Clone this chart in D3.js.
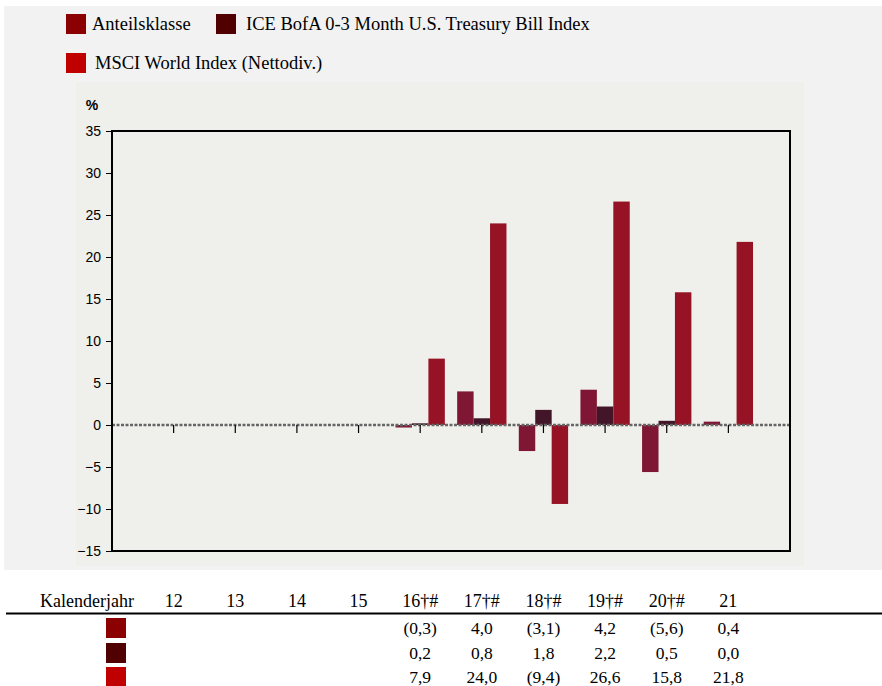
<!DOCTYPE html>
<html>
<head>
<meta charset="utf-8">
<script src="https://cdn.jsdelivr.net/npm/d3@7"></script>
<style>
  body { margin: 0; background: #ffffff; }
  .serif { font-family: "Liberation Serif", "Times New Roman", serif; fill: #000; }
  .axisY text { font-family: "Liberation Sans", Arial, sans-serif; font-size: 14px; fill: #000; }
  .axisY line { stroke: #000; }
</style>
</head>
<body>
<div id="chart"></div>
<script>
// Chart data
var years = ["12", "13", "14", "15", "16†#", "17†#", "18†#", "19†#", "20†#", "21"];
var anteilsklasse = [null, null, null, null, -0.3, 4.0, -3.1, 4.2, -5.6, 0.4];
var iceBofA = [null, null, null, null, 0.2, 0.8, 1.8, 2.2, 0.5, 0.0];
var msciWorld = [null, null, null, null, 7.9, 24.0, -9.4, 26.6, 15.8, 21.8];
var yTicks = [-15, -10, -5, 0, 5, 10, 15, 20, 25, 30, 35];

// Table rows (text as printed)
var anteilsText = ["", "", "", "", "(0,3)", "4,0", "(3,1)", "4,2", "(5,6)", "0,4"];
var iceText = ["", "", "", "", "0,2", "0,8", "1,8", "2,2", "0,5", "0,0"];
var msciText = ["", "", "", "", "7,9", "24,0", "(9,4)", "26,6", "15,8", "21,8"];

var series = [
  { name: "Anteilsklasse", values: anteilsklasse, text: anteilsText, bar: "#7f1734", key: "#8b0000" },
  { name: "ICE BofA 0-3 Month U.S. Treasury Bill Index", values: iceBofA, text: iceText, bar: "#431528", key: "#500000" },
  { name: "MSCI World Index (Nettodiv.)", values: msciWorld, text: msciText, bar: "#961326", key: "#c00000" }
];

var svgWidth = 882;
var svgHeight = 686;

// plot frame
var plot = { left: 112, right: 790, top: 131, bottom: 551 };

var svg = d3.select("#chart")
  .append("svg")
  .attr("width", svgWidth)
  .attr("height", svgHeight);

// Step 1: background panels
svg.append("rect")
  .attr("x", 4).attr("y", 6)
  .attr("width", svgWidth - 4).attr("height", 564)
  .attr("fill", "#f2f2f2");

svg.append("rect")
  .attr("x", 76).attr("y", 82)
  .attr("width", 728).attr("height", 484)
  .attr("fill", "#efefeb");

// Step 2: scales
var xScale = d3.scaleLinear()
  .domain([-1, years.length])
  .range([plot.left, plot.right]);

var step = xScale(1) - xScale(0);
var barWidth = step * 0.8 / 3;

var yScale = d3.scaleLinear()
  .domain([-15, 35])
  .range([plot.bottom, plot.top]);

// Step 3: legend
var legend = [
  { s: series[0], x: 66, y: 14, dx: 26 },
  { s: series[1], x: 216, y: 14, dx: 30 },
  { s: series[2], x: 66, y: 53, dx: 29 }
];
legend.forEach(function(l) {
  svg.append("rect")
    .attr("x", l.x).attr("y", l.y)
    .attr("width", 20).attr("height", 20)
    .attr("fill", l.s.key);
  svg.append("text")
    .attr("class", "serif")
    .attr("x", l.x + l.dx)
    .attr("y", l.y + 16)
    .style("font-size", "18.5px")
    .text(l.s.name);
});

// Step 4: y axis
var leftAxis = d3.axisLeft(yScale)
  .tickValues(yTicks)
  .tickSize(6)
  .tickPadding(5);

svg.append("g")
  .attr("class", "axisY")
  .attr("transform", `translate(${plot.left}, 0)`)
  .call(leftAxis)
  .call(g => g.select(".domain").remove());

svg.append("text")
  .attr("x", 92).attr("y", 110)
  .attr("text-anchor", "middle")
  .style("font-family", "Liberation Sans, Arial, sans-serif")
  .style("font-size", "14px")
  .style("font-weight", "bold")
  .text("%");

// Step 5: bars
series.forEach(function(s, si) {
  svg.append("g")
    .selectAll("rect")
    .data(s.values.map((v, i) => ({ v: v, i: i })).filter(d => d.v !== null))
    .enter()
    .append("rect")
    .attr("x", d => xScale(d.i) - 1.5 * barWidth + si * barWidth)
    .attr("y", d => yScale(Math.max(0, d.v)))
    .attr("width", barWidth)
    .attr("height", d => Math.abs(yScale(d.v) - yScale(0)))
    .attr("fill", s.bar);
});

// Step 6: zero line and category ticks
svg.append("line")
  .attr("x1", plot.left).attr("x2", plot.right)
  .attr("y1", yScale(0)).attr("y2", yScale(0))
  .attr("stroke", "#666")
  .attr("stroke-width", 2.5)
  .attr("stroke-dasharray", "3,1.5");

svg.append("g")
  .selectAll("line")
  .data(years)
  .enter()
  .append("line")
  .attr("x1", (d, i) => xScale(i)).attr("x2", (d, i) => xScale(i))
  .attr("y1", yScale(0)).attr("y2", yScale(0) + 8)
  .attr("stroke", "#000")
  .attr("stroke-width", 1.2);

// Step 7: frame
svg.append("rect")
  .attr("x", plot.left).attr("y", plot.top)
  .attr("width", plot.right - plot.left).attr("height", plot.bottom - plot.top)
  .attr("fill", "none")
  .attr("stroke", "#000")
  .attr("stroke-width", 2);

// Step 8: table below
svg.append("text")
  .attr("class", "serif")
  .attr("x", 40).attr("y", 607)
  .style("font-size", "18px")
  .text("Kalenderjahr");

svg.append("g")
  .selectAll("text")
  .data(years)
  .enter()
  .append("text")
  .attr("class", "serif")
  .attr("x", (d, i) => xScale(i))
  .attr("y", 607)
  .attr("text-anchor", "middle")
  .style("font-size", "18px")
  .text(d => d);

svg.append("line")
  .attr("x1", 6).attr("x2", svgWidth)
  .attr("y1", 613.5).attr("y2", 613.5)
  .attr("stroke", "#000")
  .attr("stroke-width", 2);

var rowY = [618, 643, 667];
series.forEach(function(s, si) {
  svg.append("rect")
    .attr("x", 106).attr("y", rowY[si])
    .attr("width", 20).attr("height", 20)
    .attr("fill", s.key);
  svg.append("g")
    .selectAll("text")
    .data(s.text)
    .enter()
    .append("text")
    .attr("class", "serif")
    .attr("x", (d, i) => xScale(i))
    .attr("y", rowY[si] + 16)
    .attr("text-anchor", "middle")
    .style("font-size", "17.5px")
    .text(d => d);
});
</script>
</body>
</html>
